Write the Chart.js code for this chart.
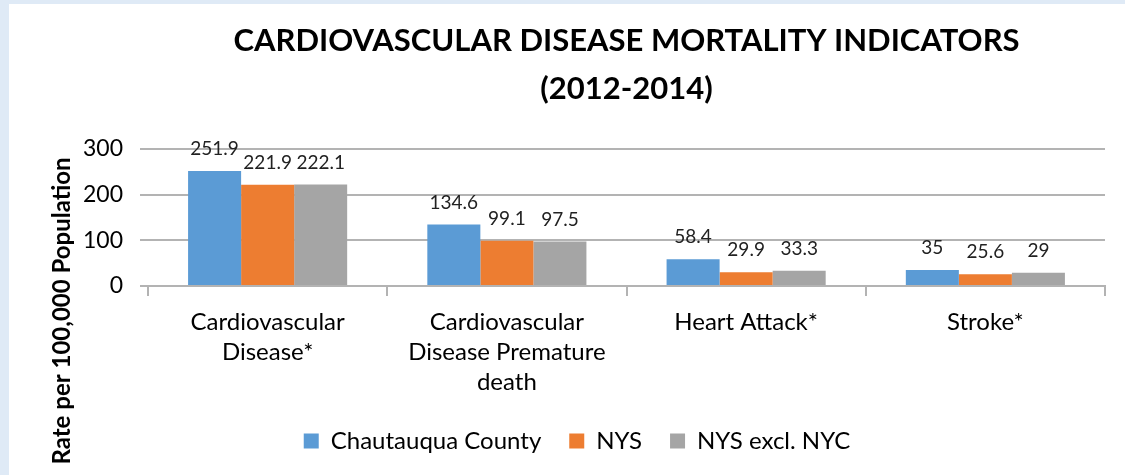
<!DOCTYPE html>
<html lang="en">
<head>
<meta charset="UTF-8">
<title>Cardiovascular Disease Mortality Indicators (2012-2014)</title>
<script src="https://cdn.jsdelivr.net/npm/chart.js"></script>
<style>
  html, body { margin: 0; padding: 0; background: #dfeaf6; }
  body { width: 1125px; height: 475px; overflow: hidden; position: relative; font-family: Lato, sans-serif; }
  #panel { position: absolute; left: 9px; top: 4px; width: 1116px; height: 471px; background: #fff; }
</style>
</head>
<body>
<div id="panel"><canvas id="chart"></canvas></div>
<script>
// data
var categories = [["Cardiovascular", "Disease*"], ["Cardiovascular", "Disease Premature", "death"], "Heart Attack*", "Stroke*"];
var seriesNames = ["Chautauqua County", "NYS", "NYS excl. NYC"];
var chautauqua = [251.9, 134.6, 58.4, 35];
var nys = [221.9, 99.1, 29.9, 25.6];
var nysExclNyc = [222.1, 97.5, 33.3, 29];
var yTicks = [0, 100, 200, 300];
var titleLines = ["CARDIOVASCULAR DISEASE MORTALITY INDICATORS", "(2012-2014)"];
var yTitle = "Rate per 100,000 Population";

var colors = ["#5b9bd5", "#ed7d31", "#a5a5a5"];
var gridColor = "#b3b3b3";

// title, y axis title and value labels
var textPlugin = {
    id: 'textPlugin',
    afterDraw: function(chart) {
        var ctx = chart.ctx;
        var area = chart.chartArea;
        ctx.save();
        ctx.fillStyle = '#000';
        ctx.textAlign = 'center';
        ctx.textBaseline = 'middle';
        ctx.font = 'bold 31px Lato';
        var cx = (area.left + area.right) / 2;
        ctx.fillText(titleLines[0], cx, 37);
        ctx.fillText(titleLines[1], cx, 85);

        ctx.translate(53, 307);
        ctx.rotate(-Math.PI / 2);
        ctx.font = 'bold 24px Lato';
        ctx.fillText(yTitle, 0, 0);
        ctx.restore();

        ctx.save();
        ctx.fillStyle = '#222';
        ctx.font = '19px Lato';
        ctx.textAlign = 'center';
        ctx.textBaseline = 'middle';
        chart.data.datasets.forEach(function(ds, i) {
            chart.getDatasetMeta(i).data.forEach(function(bar, j) {
                ctx.fillText(String(ds.data[j]), bar.x, bar.y - 22);
            });
        });
        ctx.restore();
    }
};

var ctx = document.getElementById('chart').getContext('2d');
var chart = new Chart(ctx, {
    type: 'bar',
    data: {
        labels: categories,
        datasets: [
            { label: seriesNames[0], data: chautauqua, backgroundColor: colors[0] },
            { label: seriesNames[1], data: nys, backgroundColor: colors[1] },
            { label: seriesNames[2], data: nysExclNyc, backgroundColor: colors[2] }
        ]
    },
    options: {
        responsive: true,
        maintainAspectRatio: false,
        animation: false,
        categoryPercentage: 0.665,
        barPercentage: 1.0,
        layout: { padding: { left: 40, right: 20, top: 145, bottom: 12 } },
        scales: {
            x: {
                afterFit: function(scale) { scale.height = 115; },
                grid: { drawOnChartArea: false, drawTicks: true, tickLength: 10, color: gridColor, lineWidth: 2 },
                border: { display: true, color: gridColor, width: 2 },
                ticks: { color: '#000', padding: 11, font: { family: 'Lato', size: 24, lineHeight: 1.25 } }
            },
            y: {
                min: 0,
                max: 300,
                afterFit: function(scale) { scale.width = 99; },
                afterBuildTicks: function(scale) {
                    scale.ticks = yTicks.map(function(v) { return { value: v }; });
                },
                grid: { color: gridColor, lineWidth: 2, tickLength: 8 },
                border: { display: false },
                ticks: { color: '#000', padding: 17, font: { family: 'Lato', size: 23 } }
            }
        },
        plugins: {
            legend: {
                position: 'bottom',
                labels: {
                    boxWidth: 15,
                    boxHeight: 15,
                    padding: 28,
                    color: '#000',
                    font: { family: 'Lato', size: 24 }
                }
            },
            title: { display: false },
            tooltip: { enabled: false }
        }
    },
    plugins: [textPlugin]
});
</script>
</body>
</html>
